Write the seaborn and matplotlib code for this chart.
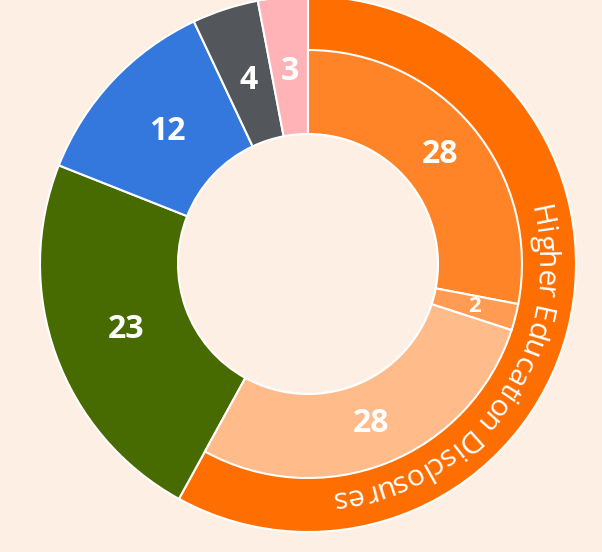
import numpy as np
import matplotlib
matplotlib.use("Agg")
import matplotlib.pyplot as plt
import seaborn as sns
from matplotlib.textpath import TextToPath
from matplotlib.font_manager import FontProperties

# data
group_name = "Higher Education Disclosures"
group_values = [28, 2, 28]
group_colors = ["#FF8427", "#FF9B52", "#FFBB8A"]
other_values = [23, 12, 4, 3]
other_colors = ["#476B00", "#3478DE", "#53575C", "#FFB3B6"]
ring_color = "#FF6E00"
bg = "#FDEFE4"

sns.set_style("white")
plt.rcParams["font.family"] = ["Open Sans", "DejaVu Sans"]

W, H = 602, 552
fig = plt.figure(figsize=(W / 100, H / 100), dpi=100, facecolor=bg)
ax = fig.add_axes([0, 0, 1, 1])
ax.set_facecolor(bg)

cx, cy = 308, H - 264
r_out, r_hole, r_mid = 268, 130, 214

# outer pie: group as one ring wedge + the other categories
outer_vals = [sum(group_values)] + other_values
wedges_a, _ = ax.pie(outer_vals, radius=r_out, center=(cx, cy), startangle=90,
                     counterclock=False, colors=[ring_color] + other_colors,
                     wedgeprops=dict(width=r_out - r_hole, edgecolor="white", linewidth=1.5))

# inner parts of the group
rest = sum(outer_vals) - sum(group_values)
wedges_b, _ = ax.pie(group_values + [rest], radius=r_mid, center=(cx, cy), startangle=90,
                     counterclock=False, colors=group_colors + ["none"],
                     wedgeprops=dict(width=r_mid - r_hole, edgecolor="white", linewidth=1.5))
wedges_b[-1].set_edgecolor("none")

def put_label(w, r, val, size):
    a = np.deg2rad((w.theta1 + w.theta2) / 2)
    ax.text(cx + r * np.cos(a), cy + r * np.sin(a), str(val), color="white",
            fontsize=size, fontweight="bold", ha="center", va="center")

for w, v in zip(wedges_a[1:], other_values):
    put_label(w, 193, v, 23)
for w, v in zip(wedges_b[:-1], group_values):
    put_label(w, 172, v, 23 if v > 5 else 16)

# curved group title along the ring, read clockwise
fsize = 21.5
fp = FontProperties(family="Open Sans", size=fsize)
t2p = TextToPath()
def adv(s):
    return t2p.get_text_width_height_descent(s, fp, ismath=False)[0] * 100 / 72

r_txt = 229
squeeze = 0.97  # tighter spacing, per-glyph placement loses kerning
total = adv(group_name) * squeeze
mid_ang = 125  # degrees clockwise from top
start = np.deg2rad(mid_ang) - total / 2 / r_txt
for i, ch in enumerate(group_name):
    s = (adv(group_name[:i]) + adv(group_name[:i + 1])) / 2 * squeeze
    th = start + s / r_txt  # clockwise from top
    x = cx + r_txt * np.sin(th)
    y = cy + r_txt * np.cos(th)
    ax.text(x, y, ch, fontproperties=fp, color="white", rotation=-np.rad2deg(th),
            rotation_mode="anchor", ha="center", va="baseline")

ax.set_xlim(0, W)
ax.set_ylim(0, H)
ax.set_aspect("equal")
ax.axis("off")

fig.savefig("out.png", dpi=100, facecolor=bg)
